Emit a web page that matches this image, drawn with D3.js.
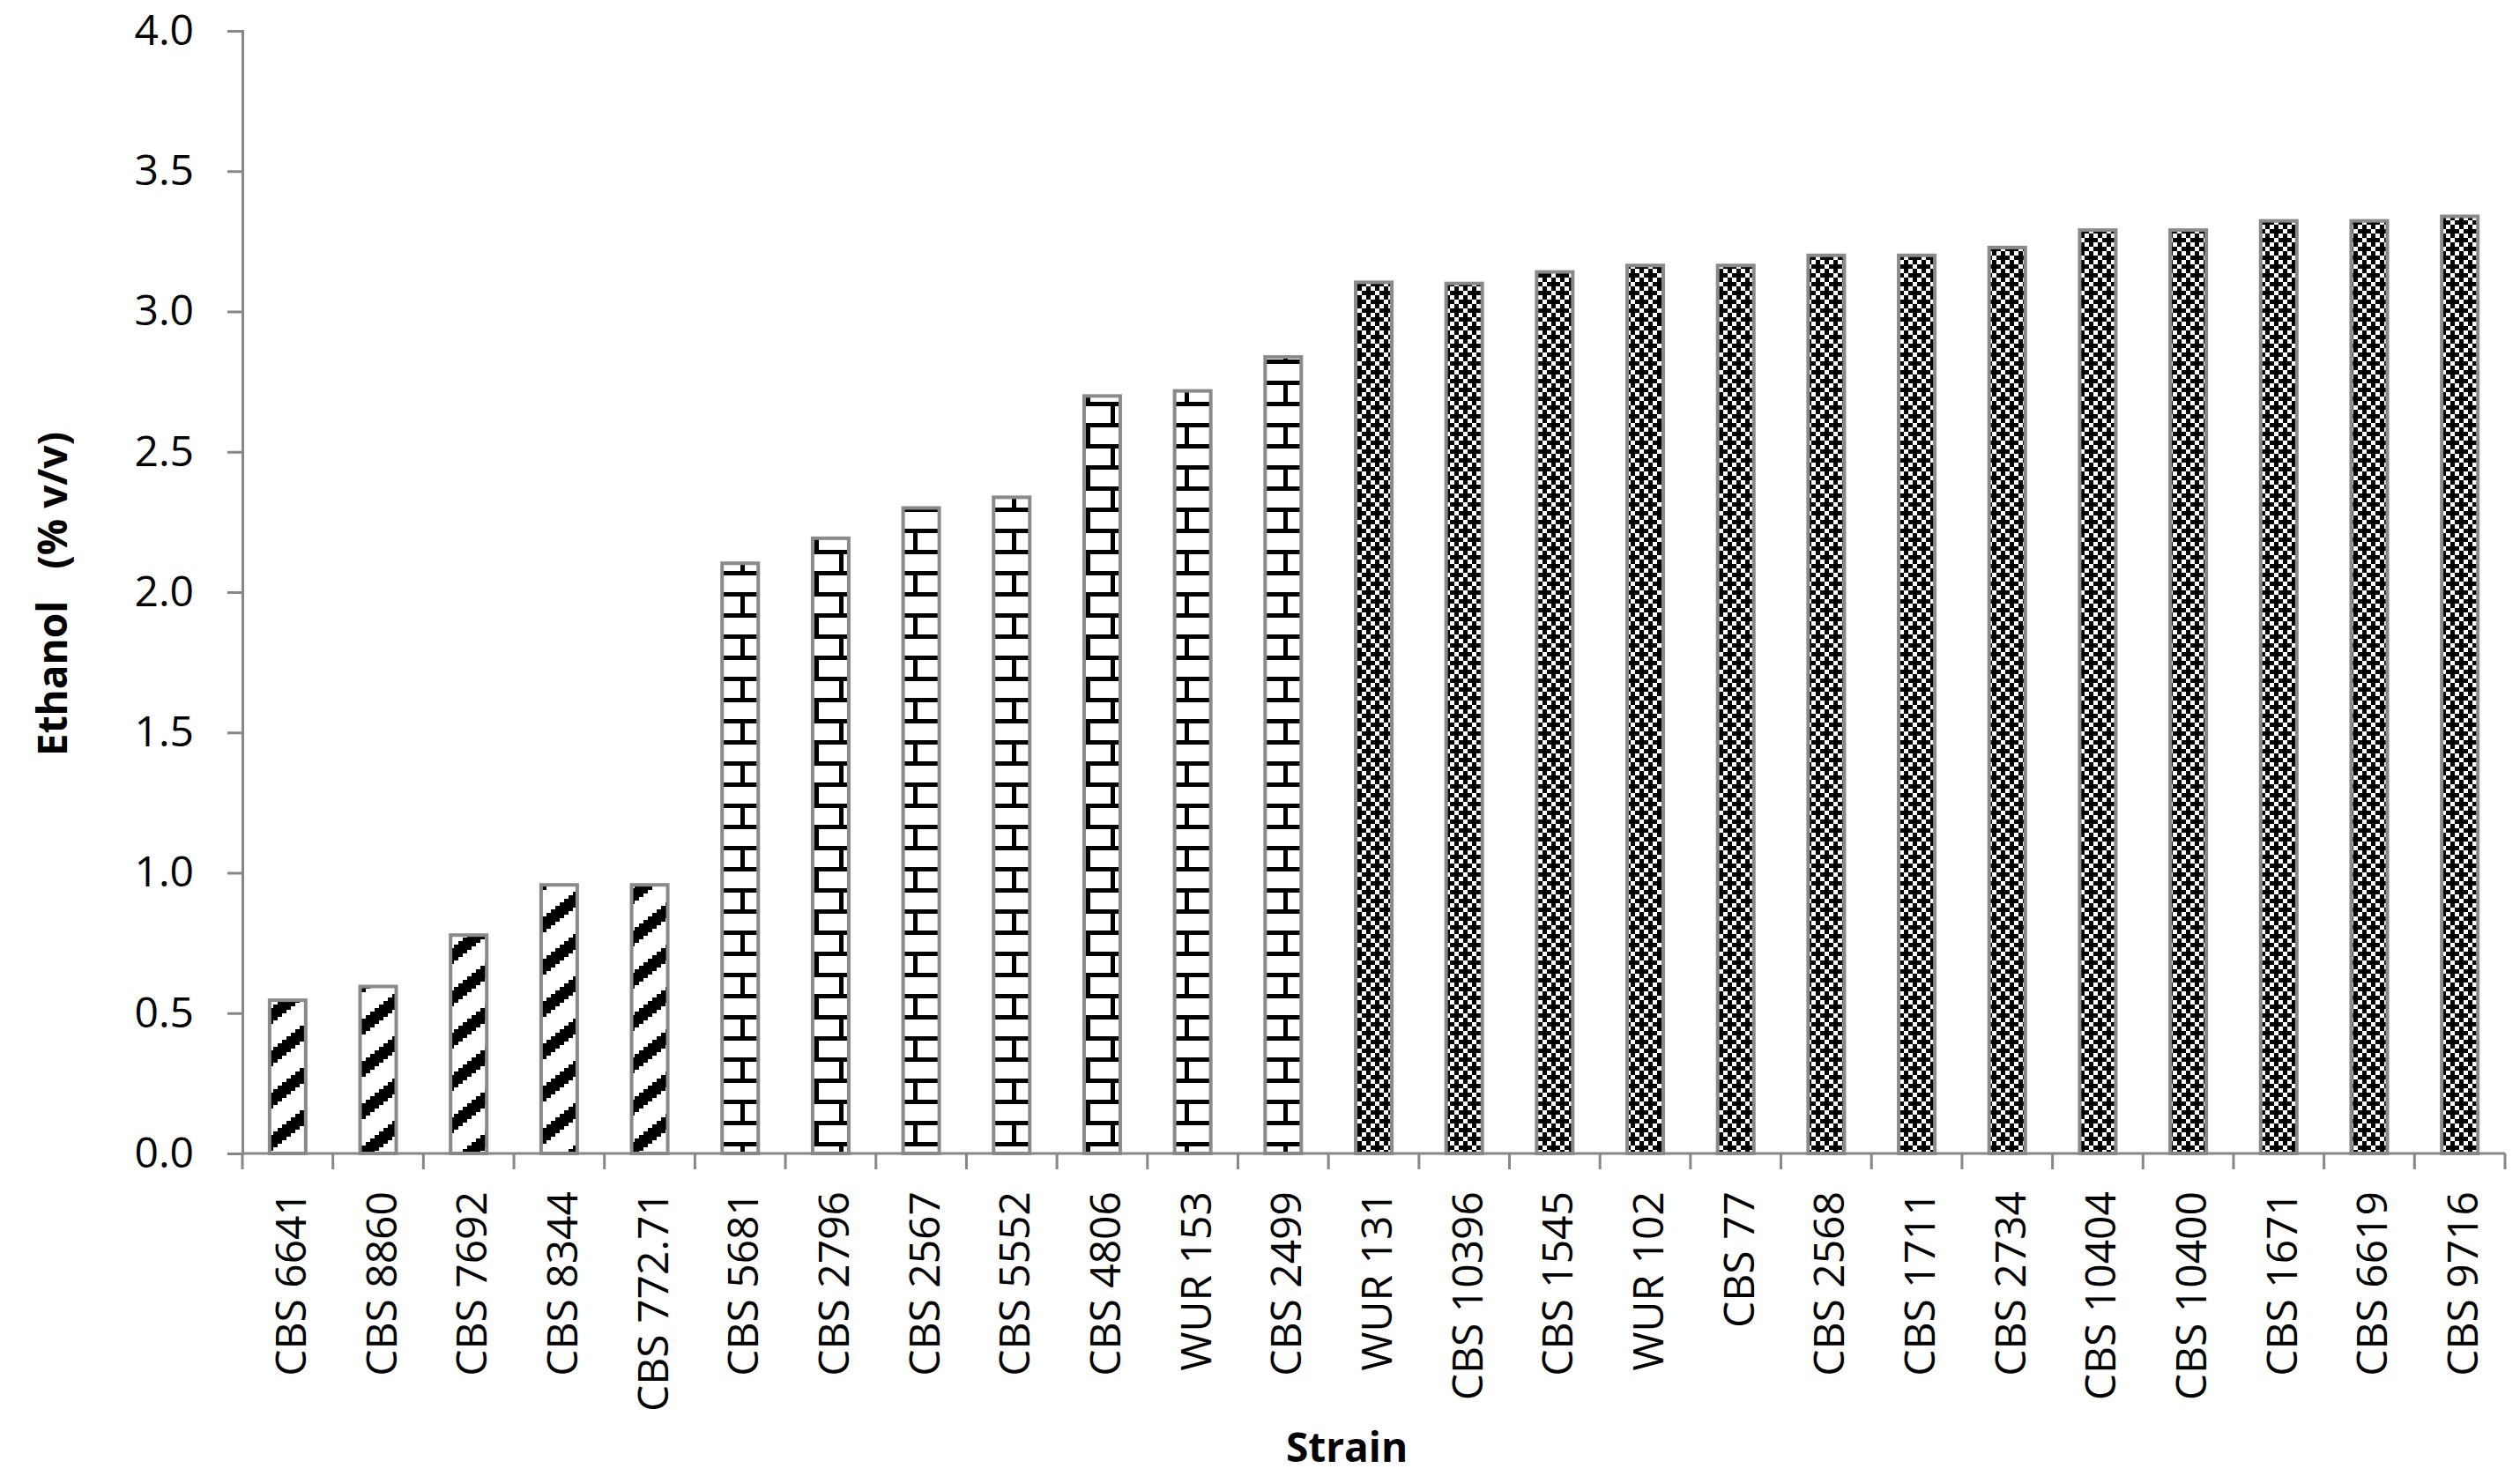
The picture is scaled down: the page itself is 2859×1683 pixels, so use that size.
<!DOCTYPE html>
<html>
<head>
<style>
body { margin: 0; background: #fff; }
text { font-family: "Open Sans", "DejaVu Sans", sans-serif; fill: #000; }
.title { font-weight: bold; white-space: pre; }
</style>
</head>
<body>
<svg id="chart" width="2859" height="1683"></svg>

<script src="https://d3js.org/d3.v7.min.js"></script>
<script>

const strains = ['CBS 6641', 'CBS 8860', 'CBS 7692', 'CBS 8344', 'CBS 772.71',
    'CBS 5681', 'CBS 2796', 'CBS 2567', 'CBS 5552', 'CBS 4806', 'WUR 153', 'CBS 2499',
    'WUR 131', 'CBS 10396', 'CBS 1545', 'WUR 102', 'CBS 77', 'CBS 2568', 'CBS 1711',
    'CBS 2734', 'CBS 10404', 'CBS 10400', 'CBS 1671', 'CBS 6619', 'CBS 9716'];

const ethanol = [0.546, 0.595, 0.778, 0.957, 0.957,
    2.103, 2.192, 2.300, 2.338, 2.699, 2.717, 2.838,
    3.104, 3.100, 3.141, 3.164, 3.164, 3.200, 3.200, 3.228, 3.290, 3.290, 3.323, 3.323, 3.339];

// which fill pattern each bar gets
const fillGroup = ['diag', 'diag', 'diag', 'diag', 'diag',
    'brick', 'brick', 'brick', 'brick', 'brick', 'brick', 'brick',
    'cross', 'cross', 'cross', 'cross', 'cross', 'cross', 'cross', 'cross', 'cross', 'cross', 'cross', 'cross', 'cross'];

const yTicks = [0, 0.5, 1.0, 1.5, 2.0, 2.5, 3.0, 3.5, 4.0];

const yTitle = 'Ethanol   (% v/v)';
const xTitle = 'Strain';

let data = strains.map(function(s, i) {
    return { name: s, value: ethanol[i], group: fillGroup[i] };
});

let svg = d3.select('#chart');
let axisColor = '#878787';

let x = d3.scaleBand()
    .domain(strains)
    .range([275, 2842])
    .padding(0);

let y = d3.scaleLinear()
    .domain([0, 4])
    .range([1309, 35]);

let barW = 41;

// ---- patterns ----
let defs = svg.append('defs');

// upward diagonal stripes, drawn as little steps
let diag = defs.append('pattern')
    .attr('id', 'diag')
    .attr('patternUnits', 'userSpaceOnUse')
    .attr('width', 60)
    .attr('height', 48);
diag.append('rect').attr('width', 60).attr('height', 48).attr('fill', '#fff');
for (let i = 0; i < 12; i++) {
    let yy = 44 - i * 4;
    [-48, 0, 48].forEach(function(off) {
        diag.append('rect')
            .attr('x', i * 5)
            .attr('y', yy + off)
            .attr('width', 5)
            .attr('height', 18)
            .attr('fill', '#000');
    });
}

// horizontal brick
let brick = defs.append('pattern')
    .attr('id', 'brick')
    .attr('patternUnits', 'userSpaceOnUse')
    .attr('width', 56)
    .attr('height', 48);
brick.append('rect').attr('width', 56).attr('height', 48).attr('fill', '#fff');
brick.append('rect').attr('x', 0).attr('y', 0).attr('width', 56).attr('height', 5).attr('fill', '#000');
brick.append('rect').attr('x', 0).attr('y', 24).attr('width', 56).attr('height', 5).attr('fill', '#000');
brick.append('rect').attr('x', 0).attr('y', 0).attr('width', 5).attr('height', 24).attr('fill', '#000');
brick.append('rect').attr('x', 28).attr('y', 24).attr('width', 5).attr('height', 24).attr('fill', '#000');

// black crosses with small white squares
let cell = 5;
let cross = defs.append('pattern')
    .attr('id', 'cross')
    .attr('patternUnits', 'userSpaceOnUse')
    .attr('width', cell * 4)
    .attr('height', cell * 4);
cross.append('rect').attr('width', cell * 4).attr('height', cell * 4).attr('fill', '#000');
for (let i = 0; i < 4; i++) {
    for (let j = 0; j < 4; j++) {
        let white = (i % 2 == 1 && j % 2 == 1) || (i % 2 == 0 && j % 2 == 0 && (i + j) % 4 == 2);
        if (white) {
            cross.append('rect')
                .attr('x', i * cell).attr('y', j * cell)
                .attr('width', cell).attr('height', cell)
                .attr('fill', '#fff');
        }
    }
}

// ---- bars ----
svg.append('g')
    .selectAll('rect')
    .data(data)
    .join('rect')
    .attr('x', function(d) { return x(d.name) + (x.bandwidth() - barW) / 2; })
    .attr('y', function(d) { return y(d.value); })
    .attr('width', barW)
    .attr('height', function(d) { return y(0) - y(d.value); })
    .attr('fill', function(d) { return 'url(#' + d.group + ')'; })
    .attr('stroke', '#8a8a8a')
    .attr('stroke-width', 4);

// ---- y axis ----
let yAxis = svg.append('g')
    .attr('transform', 'translate(275,0)')
    .call(d3.axisLeft(y)
        .tickValues(yTicks)
        .tickFormat(d3.format('.1f'))
        .tickSize(17)
        .tickPadding(38));
yAxis.select('.domain').attr('stroke', axisColor).attr('stroke-width', 3);
yAxis.selectAll('.tick line').attr('stroke', axisColor).attr('stroke-width', 3);
yAxis.selectAll('.tick text')
    .attr('font-family', '"Open Sans", sans-serif')
    .attr('font-size', 48)
    .attr('fill', '#000');

// ---- x axis ----
let boundaries = strains.map(function(s) { return x(s); }).concat([x.range()[1]]);

svg.append('line')
    .attr('x1', x.range()[0]).attr('x2', x.range()[1])
    .attr('y1', y(0)).attr('y2', y(0))
    .attr('stroke', axisColor).attr('stroke-width', 3);

svg.append('g')
    .selectAll('line')
    .data(boundaries)
    .join('line')
    .attr('x1', function(d) { return d; })
    .attr('x2', function(d) { return d; })
    .attr('y1', y(0))
    .attr('y2', y(0) + 18)
    .attr('stroke', axisColor)
    .attr('stroke-width', 3);

svg.append('g')
    .selectAll('text')
    .data(strains)
    .join('text')
    .attr('transform', function(d) {
        return 'translate(' + (x(d) + x.bandwidth() / 2 + 2) + ',' + (y(0) + 43) + ') rotate(-90)';
    })
    .attr('text-anchor', 'end')
    .attr('dominant-baseline', 'central')
    .attr('font-size', 48)
    .text(function(d) { return d; });

// ---- titles ----
svg.append('text')
    .attr('class', 'title')
    .attr('transform', 'translate(58,674) rotate(-90)')
    .attr('text-anchor', 'middle')
    .attr('dominant-baseline', 'central')
    .attr('font-size', 46)
    .text(yTitle);

svg.append('text')
    .attr('class', 'title')
    .attr('x', 1528)
    .attr('y', 1641)
    .attr('text-anchor', 'middle')
    .attr('dominant-baseline', 'central')
    .attr('font-size', 46)
    .text(xTitle);

</script>
</body>
</html>
